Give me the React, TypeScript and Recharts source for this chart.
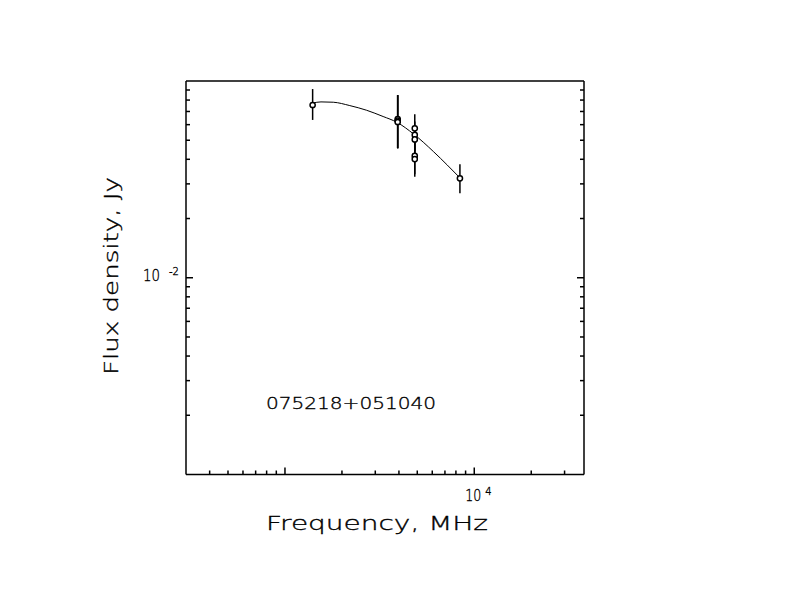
import React from 'react';
import {
  ComposedChart,
  Line,
  Scatter,
  ErrorBar,
  XAxis,
  YAxis,
  Customized,
} from 'recharts';

// measured points (MHz, Jy) with [minus, plus] errors
const pointFreq = [1400, 3940, 3940, 3940, 4850, 4850, 4850, 4850, 4850, 8400];
const pointFlux = [0.0755, 0.0641, 0.063, 0.0619, 0.0575, 0.0532, 0.0505, 0.0416, 0.0401, 0.032];
const pointErr: [number, number][] = [
  [0.0121, 0.0155],
  [0.0186, 0.0207],
  [0.0175, 0.0218],
  [0.0164, 0.0229],
  [0.0095, 0.0102],
  [0.009, 0.009],
  [0.0085, 0.0085],
  [0.008, 0.008],
  [0.0075, 0.008],
  [0.0051, 0.0057],
];

// fitted spectrum
const curveFreq = [1400, 1550, 1800, 2200, 2700, 3300, 3900, 4800, 6100, 7200, 8400];
const curveFlux = [0.0772, 0.0783, 0.078, 0.075, 0.071, 0.066, 0.0617, 0.0536, 0.0437, 0.0374, 0.0322];

const xMinorTicks = [400, 500, 600, 700, 800, 900, 2000, 3000, 4000, 5000, 6000, 7000, 8000, 9000, 20000, 30000];
const xMajorTicks = [1000, 10000];
const yMinorTicks = [0.002, 0.003, 0.004, 0.005, 0.006, 0.007, 0.008, 0.009, 0.02, 0.03, 0.04, 0.05, 0.06, 0.07, 0.08, 0.09];
const yMajorTicks = [0.01];

const X_DOMAIN: [number, number] = [300, 38000];
const Y_DOMAIN: [number, number] = [0.001, 0.1];
const SOURCE = '075218+051040';

const points = pointFreq.map((f, i) => ({ f, s: pointFlux[i], err: pointErr[i] }));
const curve = curveFreq.map((f, i) => ({ f, s: curveFlux[i] }));
const xTicks = [...xMinorTicks, ...xMajorTicks].sort((a, b) => a - b);
const yTicks = [...yMinorTicks, ...yMajorTicks].sort((a, b) => a - b);

const FONT = '"DejaVu Sans", sans-serif';
const MINOR = 4;
const MAJOR = 7;
// thin vector-like lettering
const thin = { fontFamily: FONT, fontWeight: 200, fill: '#000', stroke: '#000', strokeWidth: 0.35 };

const tickLen = (v: number, majors: number[]) => (majors.includes(v) ? MAJOR : MINOR);

const XTick = ({ x, y, payload, dir, label }: any) => {
  const len = tickLen(payload.value, xMajorTicks);
  const show = label && payload.value === 10000;
  return (
    <g>
      <line x1={x} x2={x} y1={y} y2={y + dir * len} stroke="#000" strokeWidth={1.5} />
      {show && (
        <text {...thin} x={x - 9} y={y + 26} fontSize={15} textLength={16} lengthAdjust="spacingAndGlyphs">
          10
        </text>
      )}
      {show && (
        <text {...thin} x={x + 11} y={y + 20} fontSize={10}>
          4
        </text>
      )}
    </g>
  );
};

const YTick = ({ x, y, payload, dir, label }: any) => {
  const len = tickLen(payload.value, yMajorTicks);
  const show = label && payload.value === 0.01;
  return (
    <g>
      <line x1={x} x2={x + dir * len} y1={y} y2={y} stroke="#000" strokeWidth={1.5} />
      {show && (
        <text {...thin} x={x - 43} y={y + 3} fontSize={15} textLength={17} lengthAdjust="spacingAndGlyphs">
          10
        </text>
      )}
      {show && (
        <text {...thin} x={x - 17} y={y - 3} fontSize={10}>
          -2
        </text>
      )}
    </g>
  );
};

const Dot = ({ cx, cy }: any) => (
  <circle cx={cx} cy={cy} r={2.6} fill="#fff" stroke="#000" strokeWidth={1.5} />
);

const Titles = () => (
  <g {...thin}>
    <text x={266} y={530} fontSize={20} textLength={222} lengthAdjust="spacingAndGlyphs">
      Frequency, MHz
    </text>
    <text
      x={118}
      y={276}
      fontSize={20}
      textAnchor="middle"
      textLength={198}
      lengthAdjust="spacingAndGlyphs"
      transform="rotate(-90 118 276)"
    >
      Flux density, Jy
    </text>
    <text x={266} y={408.5} fontSize={16} textLength={170} lengthAdjust="spacingAndGlyphs">
      {SOURCE}
    </text>
  </g>
);

export default function App() {
  const axisLine = { stroke: '#000', strokeWidth: 1.5 };
  return (
    <div style={{ position: 'absolute', left: 0, top: 0, background: '#fff' }}>
      <ComposedChart
        width={792}
        height={612}
        margin={{ top: 71, right: 198, bottom: 77.5, left: 126 }}
      >
        <XAxis
          dataKey="f"
          type="number"
          scale="log"
          domain={X_DOMAIN}
          allowDataOverflow
          ticks={xTicks}
          interval={0}
          height={60}
          tickSize={0}
          tickMargin={0}
          tickLine={false}
          axisLine={axisLine}
          tick={<XTick dir={-1} label />}
        />
        <XAxis
          xAxisId="top"
          orientation="top"
          type="number"
          scale="log"
          domain={X_DOMAIN}
          allowDataOverflow
          ticks={xTicks}
          interval={0}
          height={10}
          tickSize={0}
          tickMargin={0}
          tickLine={false}
          axisLine={axisLine}
          tick={<XTick dir={1} />}
        />
        <YAxis
          dataKey="s"
          type="number"
          scale="log"
          domain={Y_DOMAIN}
          allowDataOverflow
          ticks={yTicks}
          interval={0}
          width={60}
          tickSize={0}
          tickMargin={0}
          tickLine={false}
          axisLine={axisLine}
          tick={<YTick dir={1} label />}
        />
        <YAxis
          yAxisId="right"
          orientation="right"
          type="number"
          scale="log"
          domain={Y_DOMAIN}
          allowDataOverflow
          ticks={yTicks}
          interval={0}
          width={10}
          tickSize={0}
          tickMargin={0}
          tickLine={false}
          axisLine={axisLine}
          tick={<YTick dir={-1} />}
        />
        <Line
          data={curve}
          dataKey="s"
          type="monotone"
          stroke="#000"
          strokeWidth={1}
          dot={false}
          isAnimationActive={false}
        />
        <Scatter data={points} dataKey="s" shape={<Dot />} isAnimationActive={false}>
          <ErrorBar dataKey="err" direction="y" width={0} stroke="#000" strokeWidth={1.5} />
        </Scatter>
        <Customized component={Titles} />
      </ComposedChart>
    </div>
  );
}
